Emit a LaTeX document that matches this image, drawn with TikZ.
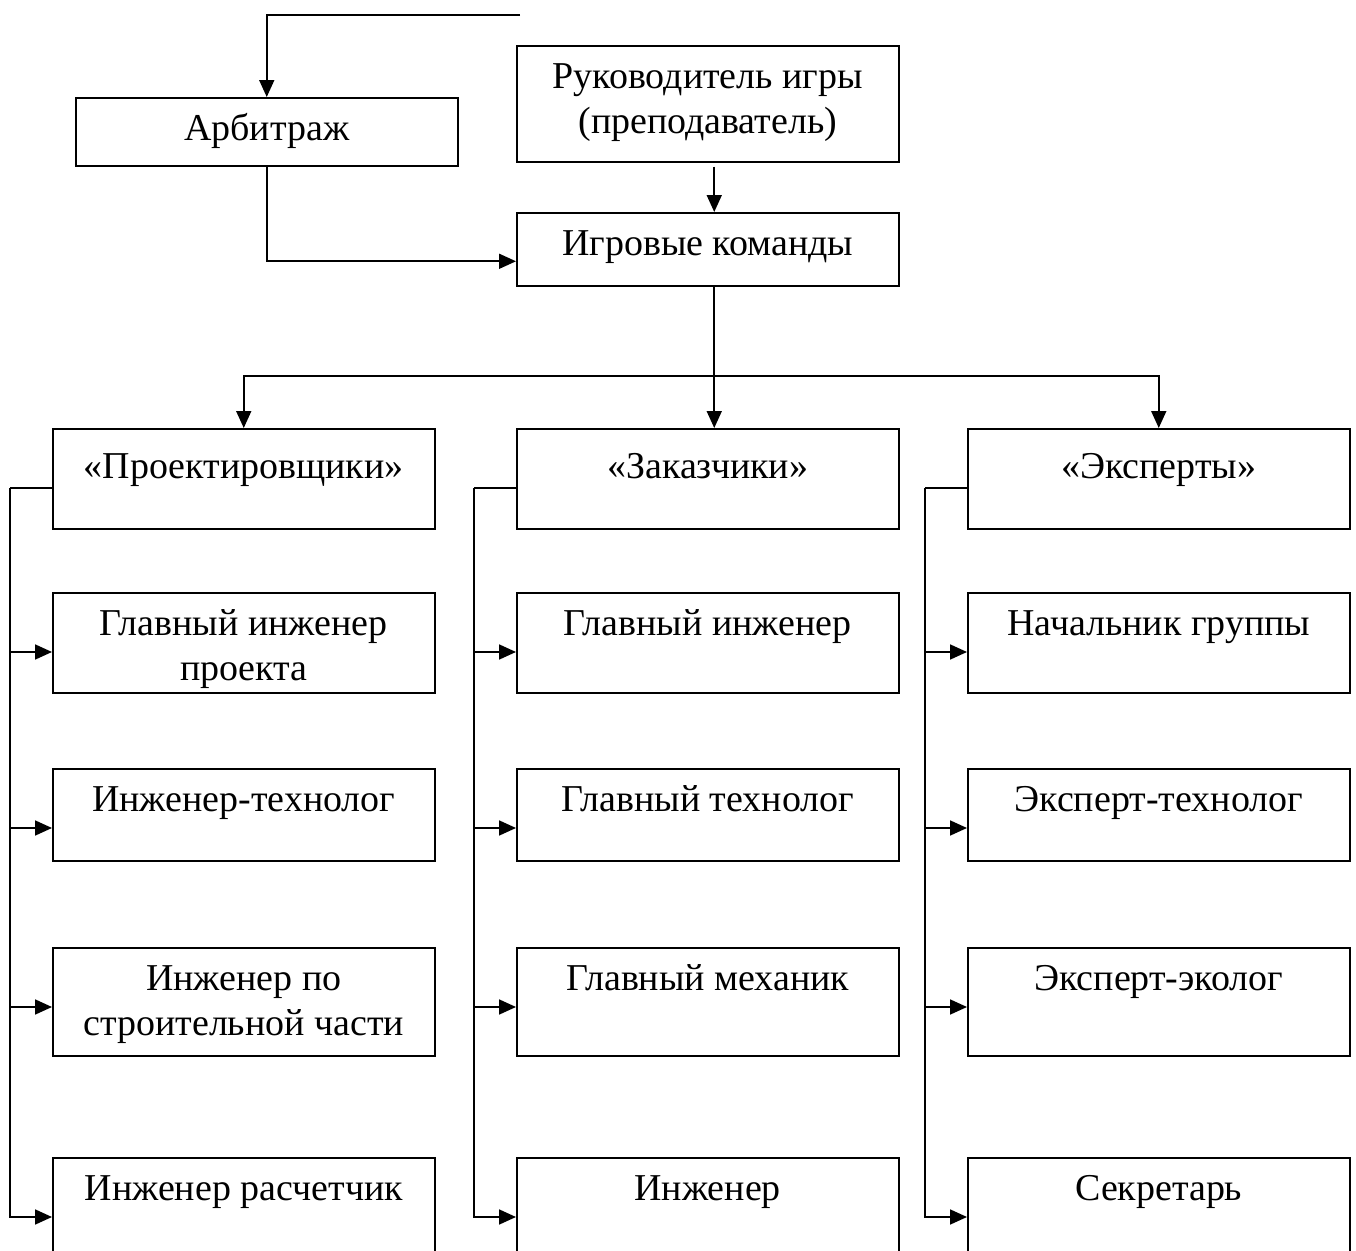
\documentclass[tikz,border=0pt]{standalone}
\usepackage{fontspec}
\setmainfont{Liberation Serif}
\usetikzlibrary{arrows.meta}
\newcommand{\cell}[3][0.86cm]{\parbox[t][#2][t]{7.64cm}{\centering\rule{0pt}{#1}#3}}
\begin{document}
\begin{tikzpicture}[x=0.02cm,y=-0.02cm,
  unit/.style={draw,line width=0.9pt,inner sep=0pt,anchor=north west,font=\fontsize{21.6}{25.5}\selectfont},
  wire/.style={line width=1pt},
  link/.style={wire,-{Triangle[length=0.34cm,width=0.3cm]}}]
\useasboundingbox (0,0) rectangle (1356,1251);
% upper part
\node[unit] (arb) at (75,97) {\cell{1.36cm}{Арбитраж}};
\node[unit] (head) at (516,45) {\cell{2.32cm}{Руководитель игры\\(преподаватель)}};
\node[unit] (team) at (516,212) {\cell{1.46cm}{Игровые команды}};
% teams
\node[unit] (g1) at (52,428) {\cell[1cm]{2cm}{«Проектировщики»}};
\node[unit] (g2) at (516,428) {\cell[1cm]{2cm}{«Заказчики»}};
\node[unit] (g3) at (967,428) {\cell[1cm]{2cm}{«Эксперты»}};
\node[unit] (r11) at (52,592) {\cell{2cm}{Главный инженер\\проекта}};
\node[unit] (r12) at (52,768) {\cell{1.84cm}{Инженер-технолог}};
\node[unit] (r13) at (52,947) {\cell{2.16cm}{Инженер по\\строительной части}};
\node[unit] (r14) at (52,1157) {\cell{2.4cm}{Инженер расчетчик}};
\node[unit] (r21) at (516,592) {\cell{2cm}{Главный инженер}};
\node[unit] (r22) at (516,768) {\cell{1.84cm}{Главный технолог}};
\node[unit] (r23) at (516,947) {\cell{2.16cm}{Главный механик}};
\node[unit] (r24) at (516,1157) {\cell{2.4cm}{Инженер}};
\node[unit] (r31) at (967,592) {\cell{2cm}{Начальник группы}};
\node[unit] (r32) at (967,768) {\cell{1.84cm}{Эксперт-технолог}};
\node[unit] (r33) at (967,947) {\cell{2.16cm}{Эксперт-эколог}};
\node[unit] (r34) at (967,1157) {\cell{2.4cm}{Секретарь}};
% links
\coordinate (top) at (520,15);
\coordinate (split) at (713,376);
\draw[link] (top) -| (arb.north);
\draw[link] (arb.south) |- ([yshift=-0.24cm]team.west);
\draw[link] ([xshift=0.13cm,yshift=-0.08cm]head.south) -- ([xshift=0.13cm]team.north);
\draw[link] ([xshift=0.13cm]team.south) -- ([xshift=0.13cm]g2.north);
\draw[link] (split) -| (g1.north);
\draw[link] (split) -| (g3.north);
\foreach \c in {1,2,3}{
  \coordinate (t\c) at ([xshift=-0.84cm,yshift=-1.2cm]g\c.north west);
  \draw[wire] ([yshift=-1.2cm]g\c.north west) -- (t\c);
  \foreach \r in {1,...,4}{
    \coordinate (a\c\r) at ([yshift=-1.2cm]r\c\r.north west);
    \draw[link] (t\c) |- (a\c\r);
  }
}
\end{tikzpicture}
\end{document}
